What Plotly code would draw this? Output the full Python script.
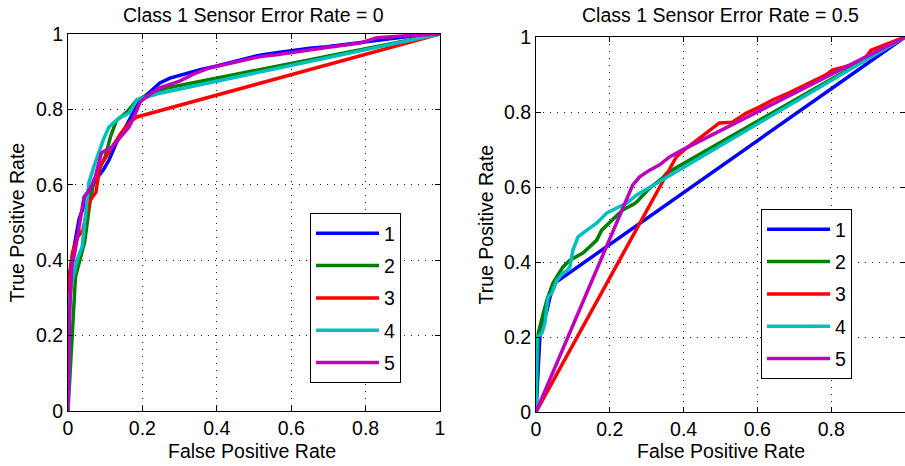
import plotly.graph_objects as go

# ---- ROC curves, Class 1 sensor error rate = 0 ----
fpr_a1 = [0, 0.002, 0.01, 0.02, 0.03, 0.045, 0.06, 0.08, 0.095, 0.11, 0.125, 0.137, 0.153, 0.175,
          0.194, 0.22, 0.247, 0.274, 0.31, 0.355, 0.4, 0.44, 0.48, 0.516, 0.56, 0.605, 0.65, 0.695,
          0.74, 0.785, 0.83, 0.875, 0.93, 1.0]
tpr_a1 = [0, 0.35, 0.40, 0.45, 0.51, 0.55, 0.59, 0.62, 0.64, 0.665, 0.70, 0.727, 0.75, 0.79,
          0.825, 0.846, 0.87, 0.883, 0.893, 0.905, 0.915, 0.925, 0.935, 0.944, 0.95, 0.957, 0.962, 0.966,
          0.972, 0.978, 0.984, 0.99, 0.995, 1.0]

fpr_a2 = [0, 0.02, 0.045, 0.06, 0.07, 0.085, 0.1, 0.115, 0.126, 0.13, 0.16, 0.185, 0.22, 0.266, 1.0]
tpr_a2 = [0, 0.355, 0.45, 0.56, 0.61, 0.645, 0.675, 0.73, 0.76, 0.77, 0.795, 0.825, 0.84, 0.857, 1.0]

fpr_a3 = [0, 0.0, 0.005, 0.012, 0.025, 0.04, 0.05, 0.06, 0.075, 0.086, 0.1, 0.118, 0.145, 0.17, 0.185, 1.0]
tpr_a3 = [0, 0.30, 0.36, 0.42, 0.46, 0.48, 0.525, 0.56, 0.58, 0.65, 0.67, 0.70, 0.74, 0.77, 0.78, 1.0]

fpr_a4 = [0, 0.005, 0.01, 0.024, 0.038, 0.056, 0.07, 0.083, 0.095, 0.11, 0.137, 0.164, 0.185, 0.212, 0.247, 1.0]
tpr_a4 = [0, 0.30, 0.34, 0.40, 0.435, 0.605, 0.65, 0.69, 0.72, 0.753, 0.777, 0.79, 0.825, 0.833, 0.843, 1.0]

fpr_a5 = [0, 0.004, 0.01, 0.02, 0.043, 0.06, 0.073, 0.09, 0.118, 0.14, 0.164, 0.177, 0.194, 0.22, 0.247,
          0.3, 0.34, 0.38, 0.45, 0.516, 0.56, 0.605, 0.7, 0.785, 0.83, 0.9, 1.0]
tpr_a5 = [0, 0.25, 0.38, 0.43, 0.568, 0.59, 0.62, 0.685, 0.70, 0.727, 0.753, 0.78, 0.82, 0.84, 0.857,
          0.875, 0.895, 0.91, 0.925, 0.94, 0.945, 0.952, 0.965, 0.976, 0.99, 0.995, 1.0]

# ---- ROC curves, Class 1 sensor error rate = 0.5 ----
fpr_b1 = [0, 0.011, 0.03, 0.038, 0.05, 0.07, 1.0]
tpr_b1 = [0, 0.21, 0.272, 0.307, 0.344, 0.357, 1.0]

fpr_b2 = [0, 0.006, 0.02, 0.03, 0.046, 0.073, 0.092, 0.11, 0.127, 0.145, 0.165, 0.178, 0.205, 0.235,
          0.262, 0.273, 0.308, 0.343, 0.354, 1.0]
tpr_b2 = [0, 0.21, 0.264, 0.30, 0.344, 0.387, 0.405, 0.415, 0.424, 0.44, 0.459, 0.485, 0.512, 0.539,
          0.553, 0.56, 0.597, 0.624, 0.637, 1.0]

fpr_b3 = [0, 0.38, 0.408, 0.443, 0.47, 0.497, 0.532, 0.57, 0.605, 0.641, 0.686, 0.732, 0.786,
          0.803, 0.849, 0.884, 0.908, 1.0]
tpr_b3 = [0, 0.68, 0.704, 0.731, 0.752, 0.771, 0.773, 0.797, 0.813, 0.832, 0.851, 0.872, 0.899,
          0.912, 0.925, 0.933, 0.965, 1.0]

fpr_b4 = [0, 0.003, 0.016, 0.024, 0.033, 0.043, 0.057, 0.073, 0.086, 0.092, 0.1, 0.114, 0.138, 0.165,
          0.192, 0.227, 0.246, 0.273, 1.0]
tpr_b4 = [0, 0.20, 0.21, 0.237, 0.307, 0.317, 0.352, 0.37, 0.379, 0.387, 0.432, 0.467, 0.485, 0.504,
          0.531, 0.547, 0.557, 0.579, 1.0]

fpr_b5 = [0, 0.262, 0.281, 0.308, 0.335, 0.362, 0.397, 1.0]
tpr_b5 = [0, 0.605, 0.627, 0.645, 0.659, 0.68, 0.699, 1.0]

series_names = ["1", "2", "3", "4", "5"]
series_colors = ["#0000FF", "#008000", "#FF0000", "#00BFBF", "#BF00BF"]

left_curves = [(fpr_a1, tpr_a1), (fpr_a2, tpr_a2), (fpr_a3, tpr_a3), (fpr_a4, tpr_a4), (fpr_a5, tpr_a5)]
right_curves = [(fpr_b1, tpr_b1), (fpr_b2, tpr_b2), (fpr_b3, tpr_b3), (fpr_b4, tpr_b4), (fpr_b5, tpr_b5)]

titles = ["Class 1 Sensor Error Rate = 0", "Class 1 Sensor Error Rate = 0.5"]
ticks = [0, 0.2, 0.4, 0.6, 0.8, 1]
tick_text = ["0", "0.2", "0.4", "0.6", "0.8", "1"]

W, H = 905, 466
FONT = "Liberation Sans, Arial, Helvetica, sans-serif"
FS = 19.5

fig = go.Figure()

for i, (x, y) in enumerate(left_curves):
    fig.add_trace(go.Scatter(x=x, y=y, mode="lines", name=series_names[i],
                             line=dict(color=series_colors[i], width=3.5),
                             xaxis="x", yaxis="y", legend="legend", legendgroup="a" + str(i)))
for i, (x, y) in enumerate(right_curves):
    fig.add_trace(go.Scatter(x=x, y=y, mode="lines", name=series_names[i],
                             line=dict(color=series_colors[i], width=3.5),
                             xaxis="x2", yaxis="y2", legend="legend2", legendgroup="b" + str(i)))

# plot areas in pixels (left, right, top, bottom)
boxes = [(68, 440, 34, 411), (536, 905, 37, 412)]


def px_x(p):
    return p / W


def px_y(p):
    return 1 - p / H


axis_common = dict(
    showline=True, linecolor="black", linewidth=1, mirror="ticks",
    ticks="inside", ticklen=5, tickcolor="black", tickwidth=1,
    showgrid=True, gridcolor="#222222", griddash="1px,6px", gridwidth=1,
    zeroline=False, automargin=False,
    tickfont=dict(family=FONT, size=FS, color="black"),
)

(l1, r1, t1, b1), (l2, r2, t2, b2) = boxes
fig.update_layout(
    xaxis=dict(domain=[px_x(l1), px_x(r1)], range=[0, 1], anchor="y",
               tickvals=ticks, ticktext=tick_text, **axis_common),
    yaxis=dict(domain=[px_y(b1), px_y(t1)], range=[0, 1], anchor="x",
               tickvals=ticks, ticktext=tick_text, **axis_common),
    xaxis2=dict(domain=[px_x(l2), min(1.0, px_x(r2))], range=[0, 1], anchor="y2",
                tickvals=ticks[:-1], ticktext=tick_text[:-1], **axis_common),
    yaxis2=dict(domain=[px_y(b2), px_y(t2)], range=[0, 1], anchor="x2",
                tickvals=ticks, ticktext=tick_text, **axis_common),
)

legend_common = dict(
    bgcolor="white", bordercolor="black", borderwidth=1,
    font=dict(family=FONT, size=FS, color="black"),
    xanchor="left", yanchor="top", traceorder="grouped", tracegroupgap=4,
    itemwidth=63,
)
fig.update_layout(
    legend=dict(x=px_x(310), y=px_y(213), **legend_common),
    legend2=dict(x=px_x(761), y=px_y(209), **legend_common),
)

annotations = []
for k, (l, r, t, b) in enumerate(boxes):
    cx = (l + r) / 2
    annotations.append(dict(text=titles[k], x=px_x(cx), y=px_y(15), xref="paper", yref="paper",
                            showarrow=False, xanchor="center", yanchor="middle",
                            font=dict(family=FONT, size=FS, color="black")))
    annotations.append(dict(text="False Positive Rate", x=px_x(cx - (2 if k == 0 else 0)), y=px_y(451),
                            xref="paper", yref="paper", showarrow=False,
                            xanchor="center", yanchor="middle",
                            font=dict(family=FONT, size=FS, color="black")))
    annotations.append(dict(text="True Positive Rate", x=px_x(l - 51), y=px_y((t + b) / 2),
                            xref="paper", yref="paper", showarrow=False, textangle=-90,
                            xanchor="center", yanchor="middle",
                            font=dict(family=FONT, size=FS, color="black")))

fig.update_layout(
    template="none",
    width=W, height=H, margin=dict(l=0, r=0, t=0, b=0, pad=0, autoexpand=False),
    paper_bgcolor="white", plot_bgcolor="white",
    annotations=annotations, showlegend=True,
    font=dict(family=FONT, size=FS, color="black"),
)

fig.write_html("out.html", config={"displayModeBar": False})
